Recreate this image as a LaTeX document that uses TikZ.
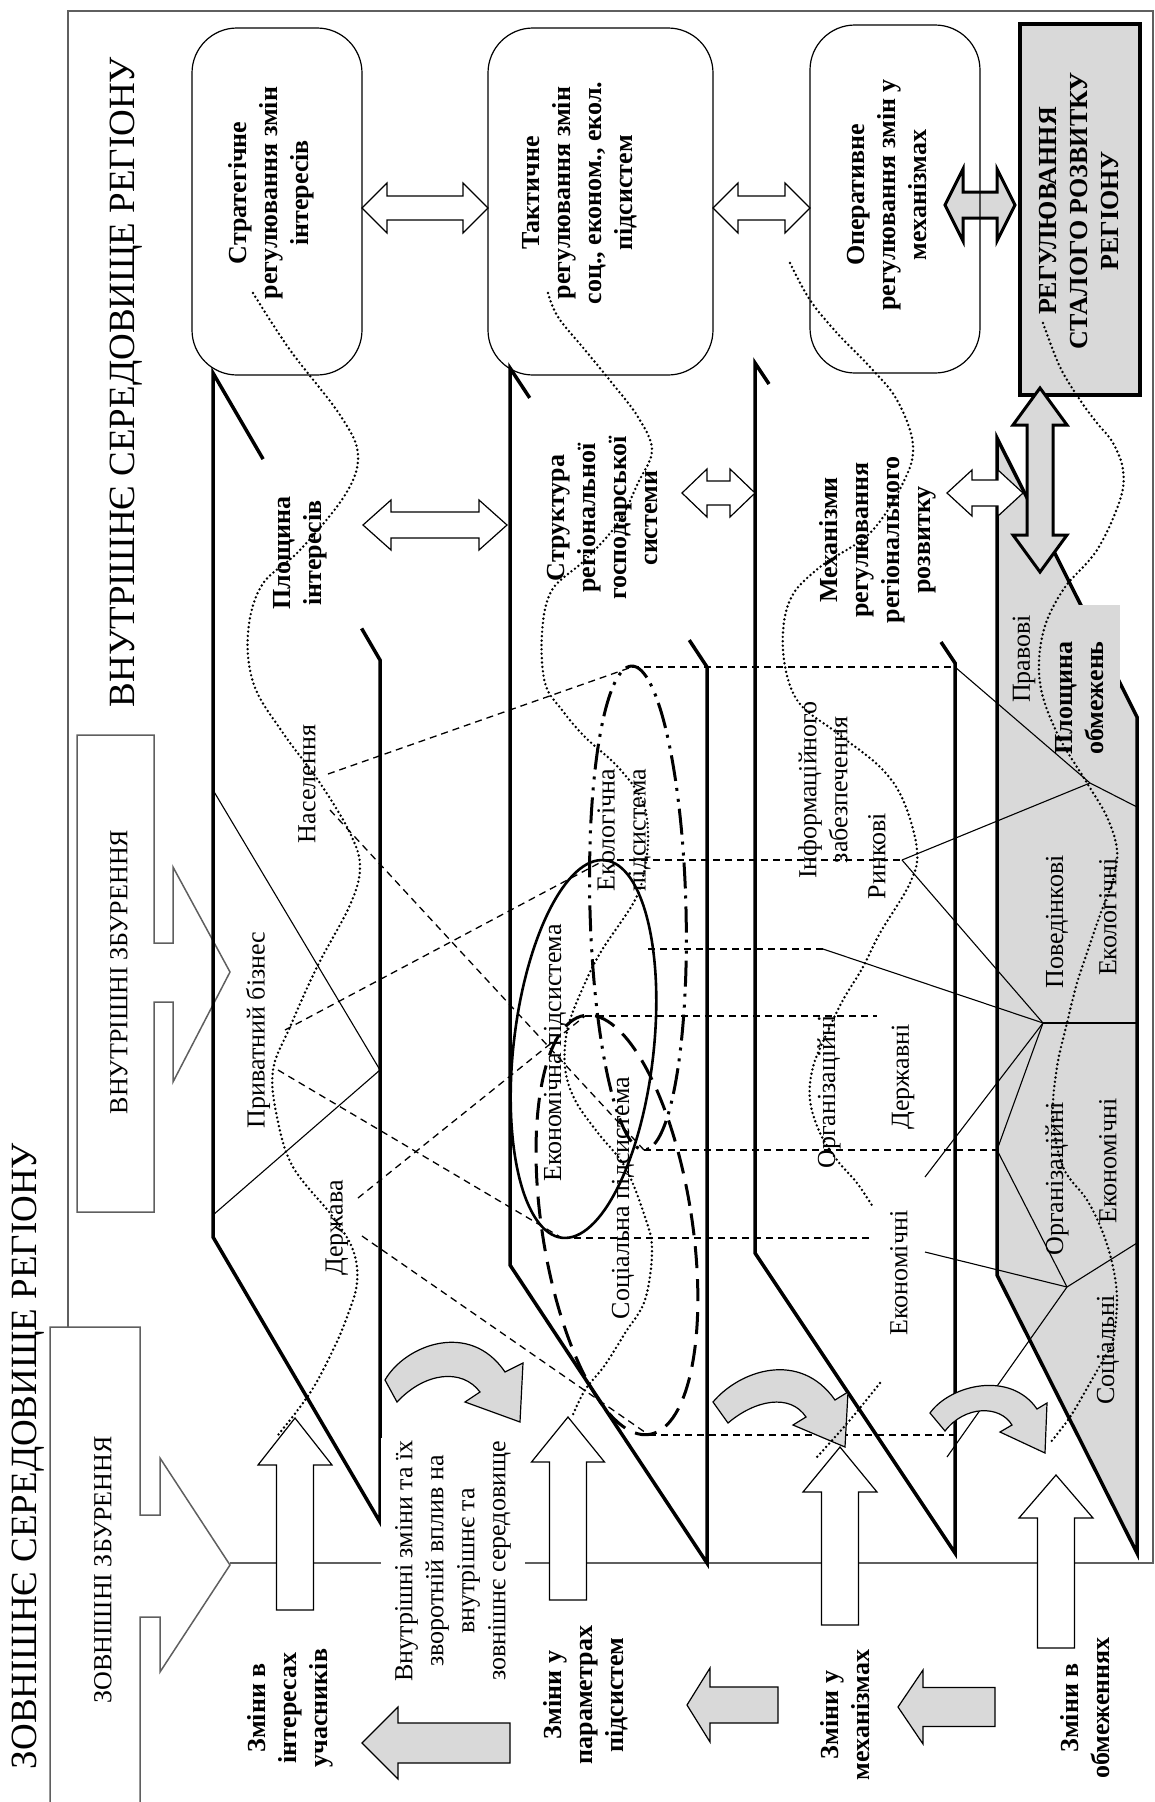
\documentclass[tikz,border=0pt]{standalone}
\usepackage{fontspec}
\setmainfont{Liberation Serif}
\usetikzlibrary{calc}
\definecolor{gfill}{RGB}{217,217,217}
\definecolor{framec}{RGB}{95,95,95}
\tikzset{
  lbl/.style={rotate=90, inner sep=0pt, align=center, font=\fontsize{26}{31}\selectfont},
  blbl/.style={lbl, font=\fontsize{26}{31}\selectfont\bfseries},
  planeln/.style={line width=3.5pt, line join=miter},
  thinl/.style={line width=1.1pt},
  dsh/.style={line width=1.3pt, dash pattern=on 7pt off 5pt},
  dots/.style={line width=2.7pt, dash pattern=on 0pt off 4.4pt, line cap=round},
  rbox/.style={draw, line width=1.2pt, rounded corners=45pt, inner sep=0pt},
  warrow/.style={draw, line width=1.2pt, fill=white, line join=miter},
  garrow/.style={draw, line width=1.2pt, fill=gfill, line join=miter},
  gthick/.style={draw, line width=3pt, fill=gfill, line join=miter},
}
\newcommand\myDH[7]{\draw[#7] (#1,#3) -- (#1+#4,#3-#5) -- (#1+#4,#3-#6) -- (#2-#4,#3-#6) -- (#2-#4,#3-#5) -- (#2,#3) -- (#2-#4,#3+#5) -- (#2-#4,#3+#6) -- (#1+#4,#3+#6) -- (#1+#4,#3+#5) -- cycle;}
\newcommand\myDV[7]{\draw[#7] (#3,#1) -- (#3+#5,#1+#4) -- (#3+#6,#1+#4) -- (#3+#6,#2-#4) -- (#3+#5,#2-#4) -- (#3,#2) -- (#3-#5,#2-#4) -- (#3-#6,#2-#4) -- (#3-#6,#1+#4) -- (#3-#5,#1+#4) -- cycle;}
\newcommand\myUp[6]{\draw[warrow] (#1,#2) -- (#1+#5,#3) -- (#1+#6,#3) -- (#1+#6,#4) -- (#1-#6,#4) -- (#1-#6,#3) -- (#1-#5,#3) -- cycle;}
\newcommand\myLeft[6]{\draw[garrow] (#1,#2) -- (#3,#2-#5) -- (#3,#2-#6) -- (#4,#2-#6) -- (#4,#2+#6) -- (#3,#2+#6) -- (#3,#2+#5) -- cycle;}
\begin{document}
\begin{tikzpicture}[x=1pt,y=-1pt]
\useasboundingbox (0,0) rectangle (1155,1802);
% frame of internal environment
\draw[framec, line width=1.8pt] (68,1327) -- (68,11) -- (1153,11) -- (1153,1563) -- (230,1563);
% disturbance shapes
\draw[framec, line width=1.5pt] (50,1802) -- (50,1327) -- (140,1327) -- (140,1515) -- (160,1515) -- (160,1458) -- (230,1565) -- (160,1672) -- (160,1617) -- (140,1617) -- (140,1802);
\draw[framec, line width=1.5pt] (77,735) -- (154,735) -- (154,943) -- (173,943) -- (173,867) -- (230,972) -- (173,1082) -- (173,1002) -- (154,1002) -- (154,1212) -- (77,1212) -- cycle;
\node[lbl, font=\fontsize{37}{40}\selectfont] (outtitle) at (28,1456) {ЗОВНІШНЄ СЕРЕДОВИЩЕ РЕГІОНУ};
\node[lbl, font=\fontsize{37}{40}\selectfont] (intitle) at (126,382) {ВНУТРІШНЄ СЕРЕДОВИЩЕ РЕГІОНУ};
\node[lbl] (extdist) at (103,1570) {ЗОВНІШНІ ЗБУРЕННЯ};
\node[lbl] (intdist) at (119,972) {ВНУТРІШНІ ЗБУРЕННЯ};

% plane corners
\coordinate (p1a) at (213,373); \coordinate (p1b) at (380,660); \coordinate (p1c) at (380,1522); \coordinate (p1d) at (213,1237);
\coordinate (p2a) at (510,368); \coordinate (p2b) at (707,667); \coordinate (p2c) at (707,1563); \coordinate (p2d) at (510,1265);
\coordinate (p3a) at (755,363); \coordinate (p3b) at (955,663); \coordinate (p3c) at (955,1553); \coordinate (p3d) at (755,1253);
\coordinate (p4a) at (997,438); \coordinate (p4b) at (1137,717); \coordinate (p4c) at (1137,1553); \coordinate (p4d) at (997,1275);
\fill[gfill] (p4a) -- (p4b) -- (p4c) -- (p4d) -- cycle;
\draw[planeln] ($(p1a)!0.89!(p1b)$) -- (p1b) -- (p1c) -- (p1d) -- (p1a) -- ($(p1a)!0.30!(p1b)$);
\draw[planeln] ($(p2a)!0.91!(p2b)$) -- (p2b) -- (p2c) -- (p2d) -- (p2a) -- ($(p2a)!0.10!(p2b)$);
\draw[planeln] ($(p3a)!0.93!(p3b)$) -- (p3b) -- (p3c) -- (p3d) -- (p3a) -- ($(p3a)!0.07!(p3b)$);
\draw[planeln] (p4a) -- (p4b) -- (p4c) -- (p4d) -- cycle;

% plane 1 partition
\coordinate (n1) at (213,790); \coordinate (n2) at (380,1070); \coordinate (n3) at (213,1215);
\draw[thinl] (n1) -- (n2) -- (n3);

% ellipse key points
\coordinate (ecoC) at (638,908); \coordinate (ekC) at (583.5,1049); \coordinate (soC) at (617,1225);
\coordinate (ecoT) at (632,667); \coordinate (ecoB) at (644,1150);
\coordinate (ekT) at (605,860); \coordinate (ekB) at (562,1238); \coordinate (ekR) at (648,949);
\coordinate (soT) at (585,1016); \coordinate (soB) at (649,1435);

% plane 3 / 4 points
\coordinate (h1) at (955,667); \coordinate (R) at (902,860); \coordinate (h3) at (823,949);
\coordinate (h4) at (877,1016); \coordinate (h6) at (870,1238); \coordinate (h7) at (955,1435);
\coordinate (V1) at (1090,783); \coordinate (V2) at (1043,1023); \coordinate (V3) at (997,1150); \coordinate (V4) at (1067,1287);
\coordinate (e1) at (1137,807); \coordinate (e2) at (1137,1023); \coordinate (e3) at (1137,1243);
\coordinate (s1) at (925,1177); \coordinate (s2) at (925,1252); \coordinate (s3) at (947,1457);

% dashed projections plane 1 -> plane 2
\coordinate (nas1) at (328,774); \coordinate (nas2) at (330,810);
\coordinate (pb1) at (285,1030); \coordinate (pb2) at (278,1070);
\coordinate (dz1) at (358,1198); \coordinate (dz2) at (362,1236);
\draw[dsh] (nas1) -- (ecoT); \draw[dsh] (nas2) -- (ecoB);
\draw[dsh] (pb1) -- (ekT); \draw[dsh] (pb2) -- (ekB);
\draw[dsh] (dz1) -- (soT); \draw[dsh] (dz2) -- (soB);
% dashed projections plane 2 -> plane 3
\draw[dsh] (ecoT) -- (h1);
\draw[dsh] (ekT) -- (R);
\draw[dsh] (ekR) -- (h3);
\draw[dsh] (soT) -- (h4);
\draw[dsh] (ecoB) -- (V3);
\draw[dsh] (ekB) -- (h6);
\draw[dsh] (soB) -- (h7);
% thin links plane 3 -> plane 4
\draw[thinl] (h1) -- (V1) -- (e1);
\draw[thinl] (R) -- (V1);
\draw[thinl] (R) -- (V2);
\draw[thinl] (h3) -- (V2);
\draw[thinl] (V2) -- (e2);
\draw[thinl] (s1) -- (V2);
\draw[thinl] (V3) -- (V2);
\draw[thinl] (V3) -- (V4);
\draw[thinl] (s2) -- (V4);
\draw[thinl] (V4) -- (e3);
\draw[thinl] (s3) -- (V4);

% ellipses
\draw[line width=2.6pt, rotate around={-6.5:(ekC)}] (ekC) ellipse [x radius=70, y radius=190];
\draw[line width=3pt, dash pattern=on 22pt off 11pt, rotate around={8.8:(soC)}] (soC) ellipse [x radius=75, y radius=212];
\draw[line width=3pt, dash pattern=on 26pt off 7pt on 3pt off 8pt on 3pt off 7pt, rotate around={1.5:(ecoC)}] (ecoC) ellipse [x radius=48, y radius=242];

% grey label patch
\fill[gfill] (1077,605) rectangle (1120,687);

% plane labels
\node[blbl] (pint) at (300,553) {Площина\\інтересів};
\node[lbl] (nas) at (307,784) {Населення};
\node[lbl] (pb) at (258,1030) {Приватний бізнес};
\node[lbl] (dz) at (337,1228) {Держава};
\node[blbl] (str) at (603,518) {Структура\\регіональної\\господарської\\системи};
\node[lbl] (ecol) at (624,830) {Екологічна\\підсистема};
\node[lbl] (econl) at (555,1053) {Економічна підсистема};
\node[lbl] (socl) at (623,1198) {Соціальна підсистема};
\node[blbl] (mech) at (878,540) {Механізми\\регулювання\\регіонального\\розвитку};
\node[lbl] (inf) at (823,790) {Інформаційного\\забезпечення};
\node[lbl] (rin) at (877,856) {Ринкові};
\node[lbl] (org3) at (829,1092) {Організаційні};
\node[lbl] (der) at (903,1077) {Державні};
\node[lbl] (ek3) at (899,1273) {Економічні};
\node[lbl] (prav) at (1024,659) {Правові};
\node[blbl] (pobm) at (1080,698) {Площина\\обмежень};
\node[lbl] (pov) at (1057,922) {Поведінкові};
\node[lbl] (ekol4) at (1108,917) {Екологічні};
\node[lbl] (org4) at (1057,1179) {Організаційні};
\node[lbl] (ek4) at (1108,1161) {Економічні};
\node[lbl] (soc4) at (1108,1350) {Соціальні};

% top boxes
\myDH{945}{1015}{205}{18}{36}{13}{gthick}
\node[rbox, rotate=90, minimum width=347pt, minimum height=170pt] (b1) at (277,201.5) {};
\node[rbox, rotate=90, minimum width=347pt, minimum height=225pt] (b2) at (600.5,201.5) {};
\node[rbox, rotate=90, minimum width=348pt, minimum height=170pt] (b3) at (895,199) {};
\node[draw, line width=4pt, fill=gfill, rotate=90, minimum width=371pt, minimum height=120pt, inner sep=0pt] (b4) at (1080,209.5) {};
\node[blbl] (t1) at (271,193) {Стратегічне\\регулювання змін\\інтересів};
\node[blbl] (t2) at (580,193) {Тактичне\\регулювання змін\\соц., економ., екол.\\підсистем};
\node[blbl] (t3) at (887,195) {Оперативне\\регулювання змін у\\механізмах};
\node[blbl] (t4) at (1079,211) {РЕГУЛЮВАННЯ\\СТАЛОГО РОЗВИТКУ\\РЕГІОНУ};
\myDV{388}{572}{1040}{37}{27}{13}{gthick}

% white double arrows
\myDH{362}{488}{208}{25}{25}{12}{warrow}
\myDH{713}{810}{208}{25}{25}{12}{warrow}
\myDH{363}{507}{525}{28}{25}{13}{warrow}
\myDH{682}{755}{493}{25}{24}{12}{warrow}
\myDH{947}{1023}{493}{25}{23}{13}{warrow}

% up arrows
\myUp{295}{1418}{1465}{1610}{37}{18.5}
\myUp{568}{1417}{1462}{1600}{36.5}{18.5}
\myUp{840}{1447}{1492}{1625}{37}{18.5}
\myUp{1056}{1475}{1518}{1648}{37}{18.5}
% left grey arrows
\myLeft{362}{1743}{398}{510}{36}{20}
\myLeft{687}{1705}{710}{778}{37}{18}
\myLeft{898}{1707}{923}{995}{37}{19.5}
% curved grey arrows
\draw[garrow] (385,1380) .. controls (405,1345) and (470,1320) .. (505,1372) -- (523,1363) -- (520,1422) -- (465,1402) -- (480,1392) .. controls (462,1368) and (425,1372) .. (397,1402) -- cycle;
\draw[garrow] (713,1402) .. controls (740,1370) and (800,1350) .. (835,1400) -- (848,1392) -- (845,1447) -- (793,1425) -- (806,1417) .. controls (790,1393) and (755,1400) .. (728,1423) -- cycle;
\draw[garrow] (930,1413) .. controls (950,1385) and (1010,1370) .. (1037,1409) -- (1047,1403) -- (1045,1453) -- (1000,1432) -- (1012,1425) .. controls (1000,1405) and (965,1405) .. (945,1431) -- cycle;

% bottom labels
\node[blbl] (zint) at (290,1708) {Зміни в\\інтересах\\учасників};
\node[lbl, fill=white, inner xsep=2pt, inner ysep=14pt] (feed) at (453,1561) {Внутрішні зміни та їх\\зворотній вплив на\\внутрішнє та\\зовнішнє середовище};
\node[blbl] (zpar) at (586,1695) {Зміни у\\параметрах\\підсистем};
\node[blbl] (zmech) at (845,1715) {Зміни у\\механізмах};
\node[blbl] (zobm) at (1085,1708) {Зміни в\\обмеженнях};

% dotted waves
\draw[dots] plot[smooth, tension=0.6] coordinates {(253,293) (290,350) (340,415) (358,455) (345,495) (300,550) (262,585) (248,633) (254,685) (283,733) (320,783) (350,833) (360,867) (350,905) (317,967) (290,1027) (273,1070) (277,1117) (293,1167) (333,1217) (353,1250) (357,1283) (347,1317) (333,1350) (310,1393) (278,1435)};
\draw[dots] plot[smooth, tension=0.6] coordinates {(548,293) (558,317) (585,350) (612,383) (638,417) (652,450) (638,483) (618,523) (585,560) (552,590) (542,633) (545,683) (562,710) (585,737) (618,767) (642,800) (648,833) (645,867) (635,900) (602,950) (585,983) (568,1027) (565,1067) (575,1100) (598,1133) (625,1167) (645,1217) (652,1250) (645,1300) (625,1333) (605,1365) (585,1390) (572,1417)};
\draw[dots] plot[smooth, tension=0.6] coordinates {(790,263) (810,300) (837,333) (870,367) (897,400) (913,445) (903,483) (870,533) (820,567) (790,600) (783,650) (797,700) (837,733) (880,767) (903,800) (917,850) (910,883) (880,933) (863,967) (843,1000) (827,1033) (813,1067) (810,1100) (820,1133) (837,1160) (857,1183) (873,1207)};
\draw[dots] plot[smooth, tension=0.6] coordinates {(880,1383) (850,1420) (817,1457)};
\draw[dots] plot[smooth, tension=0.6] coordinates {(1043,323) (1060,367) (1080,400) (1097,423) (1113,443) (1123,470) (1120,500) (1097,550) (1063,590) (1043,633) (1040,683) (1057,733) (1087,783) (1107,817) (1117,850) (1113,880) (1100,915) (1088,950) (1077,983) (1067,1023) (1057,1067) (1053,1117) (1063,1167) (1087,1200) (1103,1233) (1113,1267) (1117,1300) (1113,1340) (1103,1360) (1090,1383) (1070,1417) (1050,1443)};
\end{tikzpicture}
\end{document}
